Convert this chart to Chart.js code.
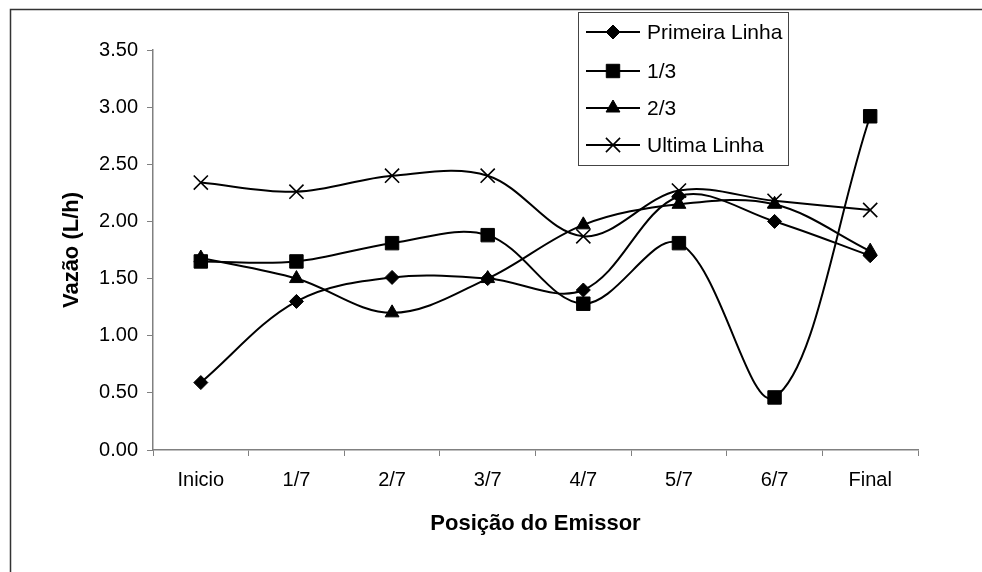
<!DOCTYPE html>
<html>
<head>
<meta charset="utf-8">
<script src="https://cdn.jsdelivr.net/npm/chart.js@4/dist/chart.umd.min.js"></script>
<style>
  html, body { margin: 0; padding: 0; background: #fff; }
  #wrap { width: 982px; height: 572px; }
</style>
</head>
<body>
<div id="wrap"><canvas id="chart"></canvas></div>
<script>
const positions = ["Inicio", "1/7", "2/7", "3/7", "4/7", "5/7", "6/7", "Final"]
const primeiraLinha = [0.59, 1.30, 1.51, 1.50, 1.40, 2.22, 2.00, 1.70]
const umTerco = [1.65, 1.65, 1.81, 1.88, 1.28, 1.81, 0.46, 2.92]
const doisTercos = [1.68, 1.50, 1.20, 1.50, 1.97, 2.15, 2.15, 1.74]
const ultimaLinha = [2.34, 2.26, 2.40, 2.40, 1.87, 2.27, 2.18, 2.10]
const yTicks = [0, 0.5, 1, 1.5, 2, 2.5, 3, 3.5]

const FONT = "Arial, 'Liberation Sans', sans-serif"

function serie(label, data, style, radius, width){
    return {
        label: label,
        data: data,
        borderColor: "#000",
        backgroundColor: "#000",
        borderWidth: 2,
        pointStyle: style,
        pointRadius: radius,
        pointBorderWidth: width,
        pointBorderColor: "#000",
        pointBackgroundColor: "#000",
        tension: 0.35,
        fill: false
    }
}

// moldura externa (so topo e esquerda aparecem na imagem)
const frame = {
    id: "frame",
    beforeDraw(chart){
        const ctx = chart.ctx
        ctx.save()
        ctx.fillStyle = "#fff"
        ctx.fillRect(0, 0, chart.width, chart.height)
        ctx.strokeStyle = "#333"
        ctx.lineWidth = 1.5
        ctx.beginPath()
        ctx.moveTo(10.5, chart.height)
        ctx.lineTo(10.5, 9.5)
        ctx.lineTo(chart.width, 9.5)
        ctx.stroke()
        ctx.restore()
    }
}

// legenda desenhada por cima da area do grafico, como no Excel
const boxLegend = {
    id: "boxLegend",
    afterDraw(chart){
        const ctx = chart.ctx
        const rows = [32, 71, 108, 145]
        ctx.save()
        ctx.fillStyle = "#fff"
        ctx.fillRect(578.5, 12.5, 210, 153)
        ctx.strokeStyle = "#444"
        ctx.lineWidth = 1
        ctx.strokeRect(578.5, 12.5, 210, 153)
        chart.data.datasets.forEach((ds, i) => {
            const y = rows[i]
            ctx.strokeStyle = "#000"
            ctx.lineWidth = 2
            ctx.beginPath()
            ctx.moveTo(586, y)
            ctx.lineTo(640, y)
            ctx.stroke()
            ctx.fillStyle = "#000"
            ctx.lineWidth = ds.pointBorderWidth
            Chart.helpers.drawPoint(ctx, {pointStyle: ds.pointStyle, radius: ds.pointRadius, borderWidth: ds.pointBorderWidth}, 613, y)
            ctx.fillStyle = "#000"
            ctx.font = `21px ${FONT}`
            ctx.textBaseline = "middle"
            ctx.textAlign = "left"
            ctx.fillText(ds.label, 647, y + 1)
        })
        ctx.restore()
    }
}

new Chart(document.getElementById("chart"), {
    type: "line",
    data: {
        labels: positions,
        datasets: [
            serie("Primeira Linha", primeiraLinha, "rectRot", 7, 1),
            serie("1/3", umTerco, "rect", 9.5, 1),
            serie("2/3", doisTercos, "triangle", 8, 1),
            serie("Ultima Linha", ultimaLinha, "crossRot", 10, 1.6)
        ]
    },
    options: {
        responsive: true,
        maintainAspectRatio: false,
        animation: false,
        layout: { padding: { left: 0, top: 50, right: 64, bottom: 0 } },
        plugins: {
            legend: { display: false },
            tooltip: { enabled: false }
        },
        scales: {
            x: {
                offset: true,
                afterFit: s => { s.height = 122 },
                grid: { offset: true, drawOnChartArea: false, drawTicks: true, tickLength: 6, color: "#808080" },
                border: { display: true, color: "#808080", width: 1.5 },
                ticks: { color: "#000", font: { family: FONT, size: 20 }, padding: 12, maxRotation: 0 },
                title: { display: true, text: "Posição do Emissor", color: "#000", font: { family: FONT, size: 22, weight: "bold" }, padding: { top: 0, bottom: 35 } }
            },
            y: {
                min: 0,
                max: 3.5,
                afterFit: s => { s.width = 153 },
                afterBuildTicks: s => { s.ticks = yTicks.map(v => ({ value: v })) },
                grid: { drawOnChartArea: false, drawTicks: true, tickLength: 6, color: "#808080" },
                border: { display: true, color: "#808080", width: 1.5 },
                ticks: { color: "#000", font: { family: FONT, size: 20 }, padding: 9, callback: v => Number(v).toFixed(2) },
                title: { display: true, text: "Vazão (L/h)", color: "#000", font: { family: FONT, size: 22, weight: "bold" }, padding: { top: 59, bottom: 0 } }
            }
        }
    },
    plugins: [frame, boxLegend]
})
</script>
</body>
</html>
